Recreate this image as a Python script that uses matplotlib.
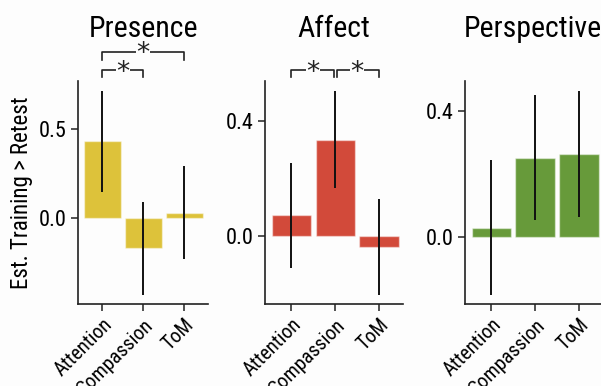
import matplotlib
matplotlib.use("Agg")
import matplotlib.pyplot as plt
from matplotlib import font_manager as fm
import numpy as np

# choose a condensed sans font if one is installed
cands = []
for f in fm.fontManager.ttflist:
    nm = f.name
    st = str(f.stretch).lower()
    narrow = ("narrow" in nm.lower() or "condensed" in nm.lower()
              or st in ("condensed", "semi-condensed", "extra-condensed", "ultra-condensed")
              or (st.isdigit() and int(st) < 500))
    if narrow and f.weight in (400, "normal", "regular") and f.style == "normal":
        cands.append(f)
pref = ["Liberation Sans Narrow", "Roboto Condensed", "Open Sans Condensed", "DejaVu Sans"]
chosen = None
for p in pref:
    for f in cands:
        if f.name == p:
            chosen = f
            break
    if chosen:
        break
if chosen is None and cands:
    chosen = cands[0]
if chosen is not None:
    fm.fontManager.addfont(chosen.fname)
    FONT = fm.FontProperties(fname=chosen.fname)
else:
    FONT = fm.FontProperties(family="Liberation Sans")

categories = ["Attention", "Compassion", "ToM"]
panels = ["Presence", "Affect", "Perspective"]
colors = ["#DDC23A", "#D24A3A", "#679A3A"]

presence_est = [0.431, -0.168, 0.031]
presence_lo = [0.149, -0.429, -0.230]
presence_hi = [0.714, 0.093, 0.294]

affect_est = [0.073, 0.336, -0.037]
affect_lo = [-0.109, 0.168, -0.205]
affect_hi = [0.256, 0.505, 0.131]

perspective_est = [0.029, 0.251, 0.263]
perspective_lo = [-0.185, 0.053, 0.063]
perspective_hi = [0.243, 0.450, 0.463]

yticks = [[0.0, 0.5], [0.0, 0.4], [0.0, 0.4]]
ylims = [(-0.48, 0.768), (-0.235, 0.539), (-0.213, 0.494)]
xlims = [(-0.59, 2.58), (-0.6, 2.54), (-0.6, 2.5)]

# significance brackets: (i, j, level)
brackets = [
    [(0, 2, "high"), (0, 1, "low")],
    [(0, 1, "low"), (1, 2, "low")],
    [],
]

ests = [presence_est, affect_est, perspective_est]
los = [presence_lo, affect_lo, perspective_lo]
his = [presence_hi, affect_hi, perspective_hi]

def fp(size):
    p = FONT.copy()
    p.set_size(size)
    return p

fig = plt.figure(figsize=(6.01, 3.86), dpi=100)
fig.patch.set_facecolor("#fdfdfd")
positions = [
    [0.1298, 0.2124, 0.2163, 0.5777],
    [0.4409, 0.2124, 0.2296, 0.5777],
    [0.7737, 0.2124, 0.2263, 0.5777],
]

level_y = {"high": (1.131, 1.094), "low": (1.049, 1.018)}

for k in range(3):
    ax = fig.add_axes(positions[k])
    ax.set_facecolor("#fdfdfd")
    x = np.arange(len(categories))
    est = np.array(ests[k])
    lo = np.array(los[k])
    hi = np.array(his[k])
    ax.bar(x, est, width=0.9, color=colors[k], edgecolor=(1, 1, 1, 0.45), linewidth=1.0, zorder=2)
    ax.vlines(x, lo, hi, color="#111111", linewidth=1.4, zorder=3)
    ax.set_xlim(*xlims[k])
    ax.set_ylim(*ylims[k])
    ax.set_yticks(yticks[k])
    ax.set_yticklabels([f"{v:.1f}" for v in yticks[k]], fontproperties=fp(16))
    ax.set_xticks(x)
    ax.set_xticklabels(categories, rotation=45, ha="right", rotation_mode="anchor",
                       fontproperties=fp(14.5))
    ax.tick_params(axis="both", length=5, width=1.1, color="#222222")
    ax.tick_params(axis="x", pad=3)
    for s in ["top", "right"]:
        ax.spines[s].set_visible(False)
    for s in ["left", "bottom"]:
        ax.spines[s].set_linewidth(1.2)
        ax.spines[s].set_color("#222222")
    ax.set_title(panels[k], fontproperties=fp(21.5), y=1.197, pad=0)
    if k == 0:
        ax.set_ylabel("Est. Training > Retest", fontproperties=fp(16.5), labelpad=4)
    trans = ax.get_xaxis_transform()
    for (i, j, lvl) in brackets[k]:
        yt, yb = level_y[lvl]
        xi = i + (0.04 if (k == 1 and i == 1) else 0)
        xj = j - (0.04 if (k == 1 and j == 1) else 0)
        ax.plot([xi, xi, xj, xj], [yb, yt, yt, yb], transform=trans, color="#222222",
                linewidth=1.2, clip_on=False)
        ax.text((i + j) / 2, yt - 0.012, "*", transform=trans, ha="center", va="center",
                fontsize=19, family="DejaVu Sans", color="#222222",
                bbox=dict(facecolor="#fdfdfd", edgecolor="none", pad=0.3))

fig.savefig("out.png", dpi=100, facecolor=fig.get_facecolor())
